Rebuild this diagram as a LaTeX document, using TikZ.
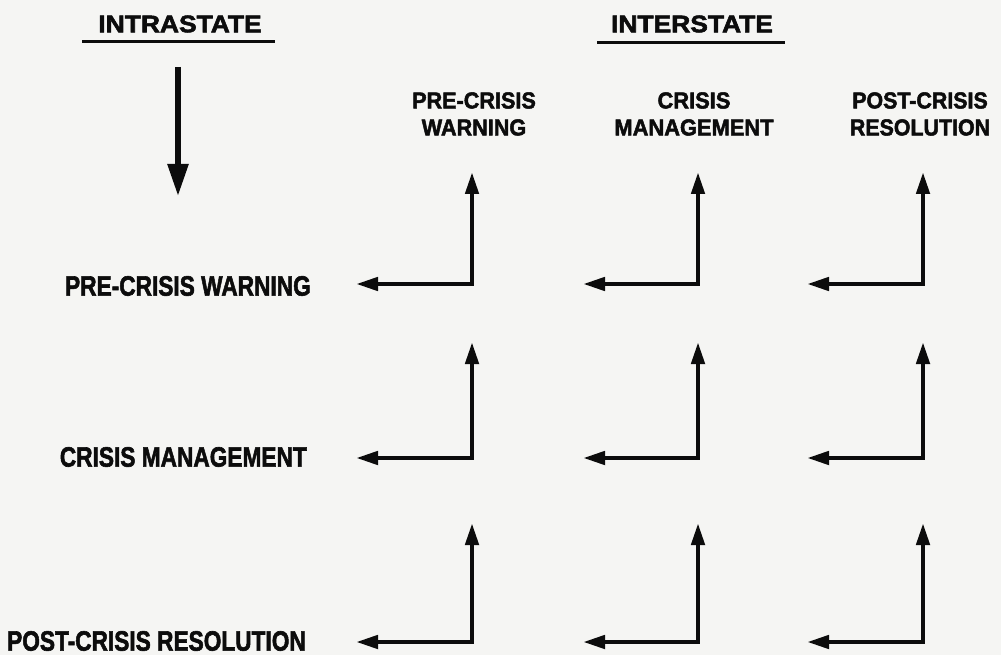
\documentclass[tikz,border=0pt]{standalone}
\usepackage{fontspec}
\usepackage{graphicx}
\setmainfont{Liberation Sans}
\newfontfamily\heavy{Liberation Sans Bold}[FakeBold=2.2]
\usetikzlibrary{arrows.meta}
\definecolor{paper}{RGB}{245,245,243}
\definecolor{ink}{RGB}{12,12,12}
\tikzset{
  title/.style={font=\fontsize{24}{26}\heavy, text=ink, inner sep=0pt},
  colhead/.style={font=\fontsize{23}{27}\heavy, text=ink, inner sep=0pt, align=center},
  rowlab/.style={font=\fontsize{28}{30}\heavy, text=ink, inner sep=0pt, anchor=east},
  underl/.style={line width=3pt, draw=ink},
  bigarrow/.style={line width=5.5pt, draw=ink, -{Triangle[length=32pt,width=20pt]}},
  larrow/.style={line width=4.5pt, draw=ink, line join=miter, -{Triangle[length=22pt,width=13pt]}}
}
\begin{document}
\begin{tikzpicture}[x=1pt,y=-1pt]
\fill[paper] (0,0) rectangle (1001,655);
\useasboundingbox (0,0) rectangle (1001,655);

% titles
\node[title] (intra) at (180,24) {\scalebox{1.1}[1]{INTRASTATE}};
\node[title] (inter) at (692,24) {\scalebox{1.1}[1]{INTERSTATE}};
\coordinate (iu1) at (82,42);  \coordinate (iu2) at (275,42);
\coordinate (eu1) at (597,43); \coordinate (eu2) at (785,43);
\draw[underl] (iu1) -- (iu2);
\draw[underl] (eu1) -- (eu2);

% down arrow
\coordinate (dtop) at (178,67);
\coordinate (dtip) at (178,196);
\draw[bigarrow] (dtop) -- (dtip);

% column headers
\node[colhead] (h1) at (474,114) {\scalebox{0.94}[1]{PRE-CRISIS}\\\scalebox{0.94}[1]{WARNING}};
\node[colhead] (h2) at (694,114) {\scalebox{0.95}[1]{CRISIS}\\\scalebox{0.95}[1]{MANAGEMENT}};
\node[colhead] (h3) at (920,114) {\scalebox{0.93}[1]{POST-CRISIS}\\\scalebox{0.93}[1]{RESOLUTION}};

% row labels
\node[rowlab] (r1) at (311,286) {\scalebox{0.81}[1]{PRE-CRISIS WARNING}};
\node[rowlab] (r2) at (307,457) {\scalebox{0.81}[1]{CRISIS MANAGEMENT}};
\node[rowlab] (r3) at (306,641) {\scalebox{0.81}[1]{POST-CRISIS RESOLUTION}};

% L-shaped double arrows
\foreach \r/\cy/\ty in {1/284/172, 2/458/342, 3/642/523}{
  \foreach \c/\vx/\lx in {1/472/356, 2/698/583, 3/923/807}{
    \coordinate (c\r\c) at (\vx,\cy);
    \coordinate (u\r\c) at (\vx,\ty);
    \coordinate (l\r\c) at (\lx,\cy);
    \draw[larrow] (c\r\c) -- (u\r\c);
    \draw[larrow] (c\r\c) -- (l\r\c);
    \fill[ink] ([xshift=-2.25pt,yshift=-2.25pt]c\r\c) rectangle ([xshift=2.25pt,yshift=2.25pt]c\r\c);
  }
}
\end{tikzpicture}
\end{document}
